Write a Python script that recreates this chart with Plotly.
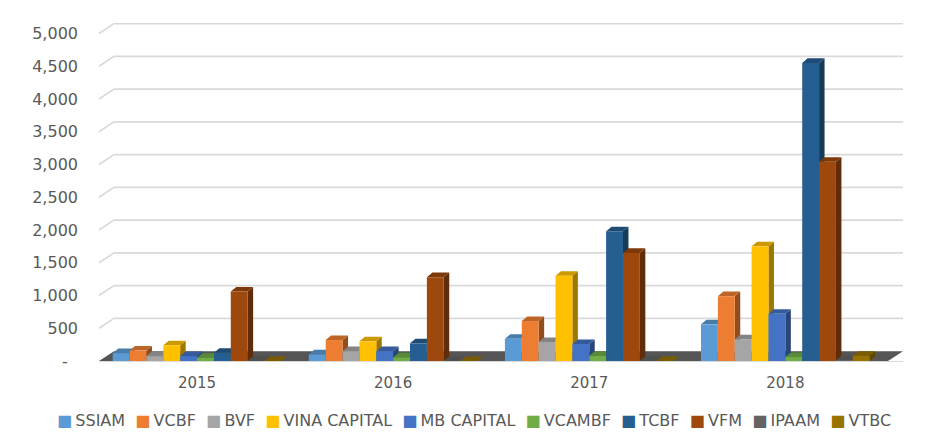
import plotly.graph_objects as go

years = ["2015", "2016", "2017", "2018"]
series_names = ["SSIAM", "VCBF", "BVF", "VINA CAPITAL", "MB CAPITAL",
                "VCAMBF", "TCBF", "VFM", "IPAAM", "VTBC"]
colors = ["#5B9BD5", "#ED7D31", "#A5A5A5", "#FFC000", "#4472C4",
          "#70AD47", "#255E91", "#9E480E", "#636363", "#997300"]

ssiam = [120, 100, 340, 560]
vcbf = [160, 320, 610, 990]
bvf = [75, 150, 290, 330]
vina_capital = [240, 300, 1300, 1750]
mb_capital = [75, 150, 260, 720]
vcambf = [50, 55, 80, 60]
tcbf = [125, 270, 1980, 4550]
vfm = [1060, 1280, 1650, 3040]
ipaam = [0, 0, 0, 10]
vtbc = [0, 0, 0, 80]
series_values = [ssiam, vcbf, bvf, vina_capital, mb_capital,
                 vcambf, tcbf, vfm, ipaam, vtbc]

y_ticks = [0, 500, 1000, 1500, 2000, 2500, 3000, 3500, 4000, 4500, 5000]
y_ticktext = ["-\u00a0\u00a0"] + [f"{v:,}" for v in y_ticks[1:]]

BARGAP = 0.14
n_series = len(series_names)
bar_w = (1 - BARGAP) / n_series
DX = 0.028       # 3D depth offset (category units)
DY = 70          # 3D depth offset (value units)
WALL_DX = 0.0187  # back wall offset (paper units)
WALL_DY = 150     # back wall offset (value units)


def shade(hexcol, f):
    h = hexcol.lstrip("#")
    r, g, b = (int(h[i:i + 2], 16) for i in (0, 2, 4))
    if f <= 1:
        r, g, b = (int(c * f) for c in (r, g, b))
    else:
        r, g, b = (int(c + (255 - c) * (f - 1)) for c in (r, g, b))
    return f"rgb({r},{g},{b})"


xs = list(range(len(years)))
fig = go.Figure()
for name, vals, col in zip(series_names, series_values, colors):
    fig.add_trace(go.Bar(x=xs, y=vals, name=name, marker_color=col,
                         marker_line_width=0, showlegend=False))

shapes = []
# back-wall gridlines with perspective diagonal
for v in y_ticks[1:]:
    shapes.append(dict(type="path", xref="paper", yref="y", layer="below",
                       path=f"M 0,{v} L {WALL_DX},{v + WALL_DY} L 1,{v + WALL_DY}",
                       line=dict(color="#D9D9D9", width=1.6)))
# floor
shapes.append(dict(type="path", xref="paper", yref="y", layer="below",
                   path=f"M 0,0 L {WALL_DX},{WALL_DY} L 1,{WALL_DY} L {1 - WALL_DX},0 Z",
                   fillcolor="#555555", line=dict(width=0)))
# 3D side and top faces of each bar, derived from the data
for j, (vals, col) in enumerate(zip(series_values, colors)):
    for i, v in enumerate(vals):
        xl = i + (j - n_series / 2) * bar_w
        xr = xl + bar_w
        shapes.append(dict(type="path", xref="x", yref="y", layer="below",
                           path=f"M {xr},0 L {xr + DX},{DY} L {xr + DX},{v + DY} L {xr},{v} Z",
                           fillcolor=shade(col, 0.62), line=dict(width=0)))
        shapes.append(dict(type="path", xref="x", yref="y", layer="below",
                           path=f"M {xl},{v} L {xl + DX},{v + DY} L {xr + DX},{v + DY} L {xr},{v} Z",
                           fillcolor=shade(col, 0.8), line=dict(width=0)))

legend_text = "\u00a0\u00a0".join(
    f"<span style='color:{c}'>\u25a0</span>\u2009{n}" for n, c in zip(series_names, colors))

fig.update_layout(
    width=920, height=432,
    margin=dict(l=91, r=25, t=15, b=79),
    paper_bgcolor="white", plot_bgcolor="white",
    barmode="group", bargap=BARGAP, bargroupgap=0,
    font=dict(family="DejaVu Sans", color="#595959", size=15),
    shapes=shapes,
    xaxis=dict(range=[-0.5, 3.6], tickvals=xs, ticktext=years, showgrid=False,
               zeroline=False, showline=True, linecolor="#D9D9D9", linewidth=1,
               ticks="", ticklabelstandoff=8, tickfont=dict(size=15, color="#595959")),
    yaxis=dict(range=[0, 5160], tickvals=y_ticks, ticktext=y_ticktext,
               showgrid=False, zeroline=False, showline=False, ticks="",
               ticklabelstandoff=20, tickfont=dict(size=16, color="#595959")),
    annotations=[dict(text=legend_text, xref="paper", yref="paper",
                      x=0.4664, y=-0.176, xanchor="center", yanchor="middle",
                      showarrow=False, font=dict(size=16, color="#595959",
                                                 family="DejaVu Sans"))],
)

fig.write_html("out.html")
